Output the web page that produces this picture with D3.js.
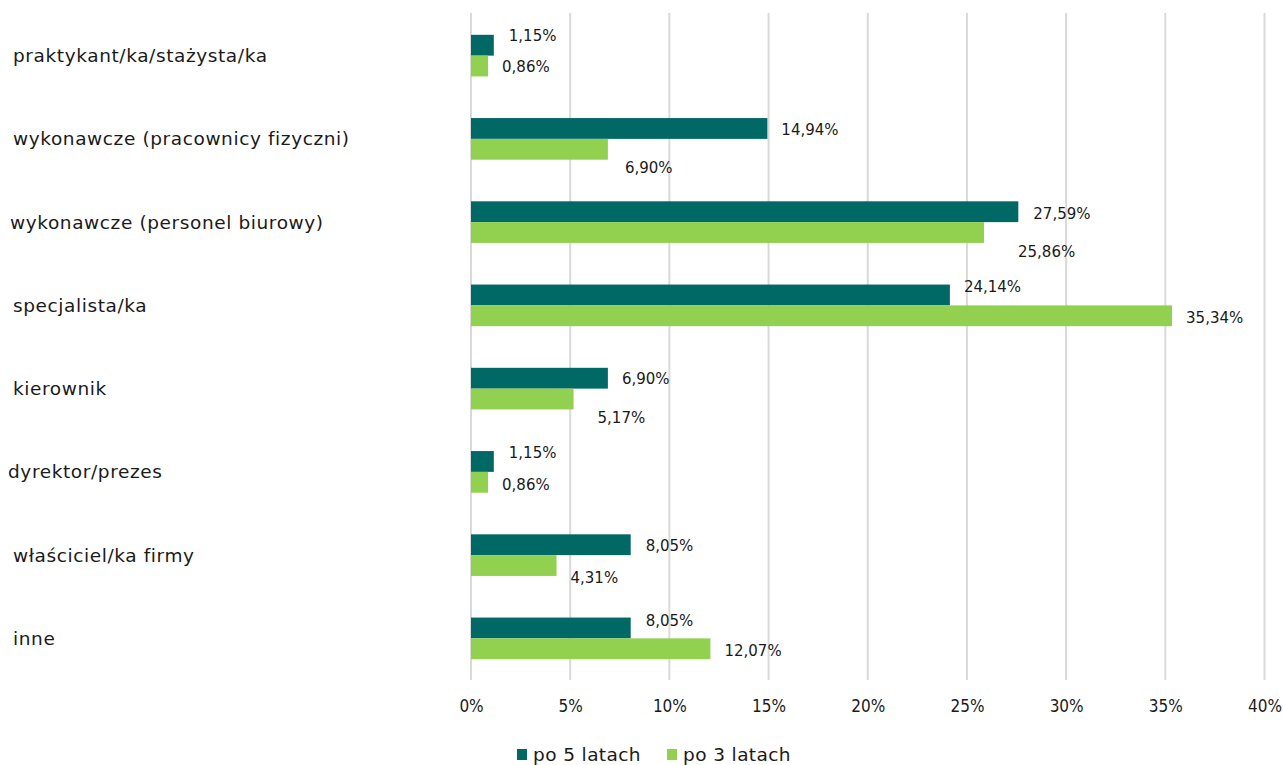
<!DOCTYPE html>
<html>
<head>
<meta charset="utf-8">
<script src="https://cdn.jsdelivr.net/npm/d3@7"></script>
<style>
  body { margin: 0; background: #fff; }
  svg text { font-family: "DejaVu Sans", sans-serif; fill: #1a1a1a; }
  .grid line { stroke: #d9d9d9; stroke-width: 2; }
</style>
</head>
<body>
<div id="chart"></div>
<script>
var width = 1283, height = 765;

// data
var categories = [
  "praktykant/ka/stażysta/ka",
  "wykonawcze (pracownicy fizyczni)",
  "wykonawcze (personel biurowy)",
  "specjalista/ka",
  "kierownik",
  "dyrektor/prezes",
  "właściciel/ka firmy",
  "inne"
];
var seriesNames = ["po 5 latach", "po 3 latach"];
var after5 = [1.15, 14.94, 27.59, 24.14, 6.90, 1.15, 8.05, 8.05];
var after3 = [0.86, 6.90, 25.86, 35.34, 5.17, 0.86, 4.31, 12.07];
var xTicks = [0, 5, 10, 15, 20, 25, 30, 35, 40];

// label nudges (px), as the labels were moved by hand in the original
var nudge5 = [[1, -9], [0, 1], [1, 2], [0, -8], [0, 1], [1, -9], [1, 1], [1, -7]];
var nudge3 = [[0, 1], [3, 18], [20, 19], [0, 2], [10, 19], [0, 2], [0, 12], [0, 2]];

var colors = ["#006865", "#92d050"];

var margin = {top: 14, left: 471, right: 18, bottom: 85};

var svg = d3.select("#chart")
  .append("svg")
  .attr("width", width)
  .attr("height", height);

var x = d3.scaleLinear()
  .domain([0, 40])
  .range([margin.left, 1264.5]);

var y = d3.scaleBand()
  .domain(categories)
  .range([margin.top, height - margin.bottom])
  .paddingInner(0.5)
  .paddingOuter(0.25);

var inner = d3.scaleBand()
  .domain([0, 1])
  .range([0, y.bandwidth()]);

// vertical gridlines
svg.append("g")
  .attr("class", "grid")
  .selectAll("line")
  .data(xTicks)
  .enter().append("line")
  .attr("x1", function(d) { return x(d); })
  .attr("x2", function(d) { return x(d); })
  .attr("y1", margin.top - 1)
  .attr("y2", height - margin.bottom);

// x tick labels
var xAxis = d3.axisBottom(x)
  .tickValues(xTicks)
  .tickSize(0)
  .tickPadding(0)
  .tickFormat(function(d) { return d + "%"; });

svg.append("g")
  .attr("transform", "translate(0," + 700 + ")")
  .call(xAxis)
  .call(function(g) { g.select(".domain").remove(); })
  .selectAll("text")
  .attr("font-size", 17)
  .attr("dy", "0.71em")
  .style("font-family", "'DejaVu Sans Condensed', sans-serif")
  .attr("fill", "#1a1a1a");

// category labels
svg.append("g")
  .selectAll("text")
  .data(categories)
  .enter().append("text")
  .attr("x", function(d, i) { return i === 5 ? 8 : (i === 2 ? 10 : 13); })
  .attr("y", function(d) { return y(d) + y.bandwidth() / 2; })
  .attr("dy", "0.35em")
  .attr("font-size", 18.5)
  .attr("letter-spacing", 0.6)
  .text(function(d) { return d; });

var series = [after5, after3];
var nudges = [nudge5, nudge3];

function fmt(v) { return v.toFixed(2).replace(".", ",") + "%"; }

series.forEach(function(vals, s) {
  var g = svg.append("g").attr("class", "series-" + s);

  g.selectAll("rect")
    .data(vals)
    .enter().append("rect")
    .attr("x", x(0))
    .attr("y", function(d, i) { return y(categories[i]) + inner(s); })
    .attr("width", function(d) { return x(d) - x(0); })
    .attr("height", inner.bandwidth())
    .attr("fill", colors[s]);

  g.selectAll("text")
    .data(vals)
    .enter().append("text")
    .attr("x", function(d, i) { return x(d) + 14 + nudges[s][i][0]; })
    .attr("y", function(d, i) { return y(categories[i]) + inner(s) + inner.bandwidth() / 2 + nudges[s][i][1]; })
    .attr("dy", "0.35em")
    .attr("font-size", 15)
    .text(fmt);
});

// legend
var legend = svg.append("g")
  .attr("transform", "translate(517,749)");

var item = legend.selectAll("g")
  .data(seriesNames)
  .enter().append("g")
  .attr("transform", function(d, i) { return "translate(" + (i * 150) + ",0)"; });

item.append("rect")
  .attr("width", 10)
  .attr("height", 11)
  .attr("fill", function(d, i) { return colors[i]; });

item.append("text")
  .attr("x", 16)
  .attr("y", 5.5)
  .attr("dy", "0.35em")
  .attr("font-size", 18.5)
  .attr("letter-spacing", 0.4)
  .text(function(d) { return d; });
</script>
</body>
</html>
